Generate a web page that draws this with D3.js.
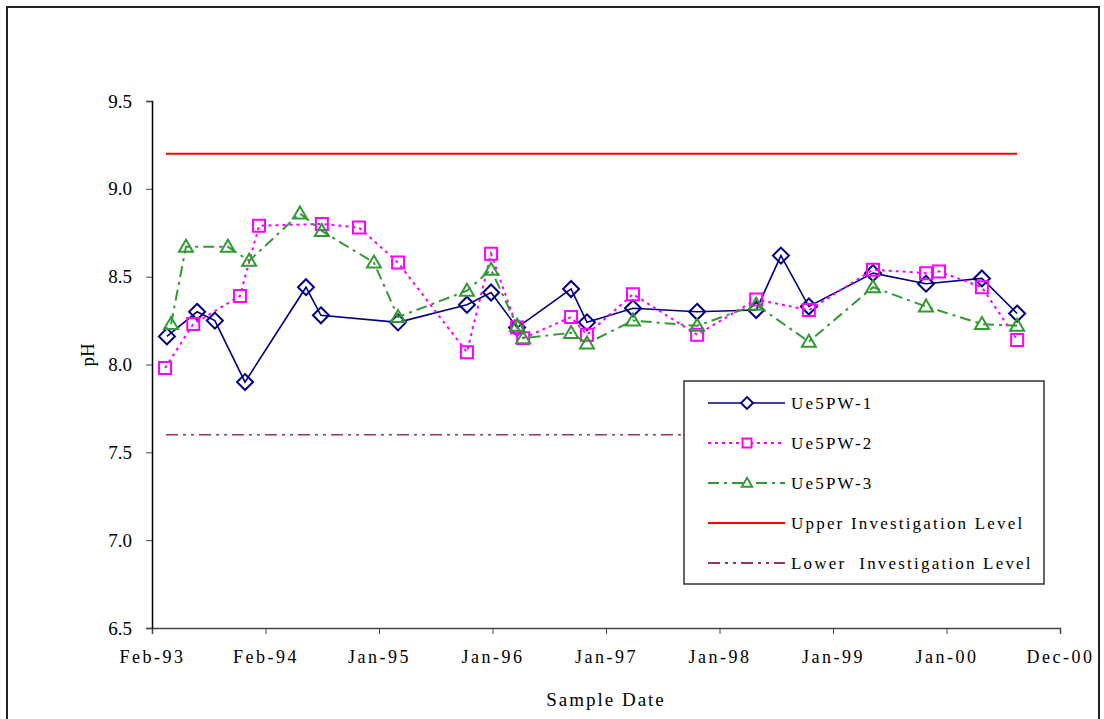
<!DOCTYPE html>
<html>
<head>
<meta charset="utf-8">
<script src="https://cdn.jsdelivr.net/npm/d3@7"></script>
<style>
  body { margin: 0; background: #fff; }
</style>
</head>
<body>
<div id="chart"><svg width="1104" height="719"></svg></div>
<script>
'use strict';

// sample dates and pH readings for each well
var dates1 = ['1993-04-08', '1993-07-12', '1993-09-06', '1993-12-10', '1994-06-20', '1994-08-06', '1995-04-06',
  '1995-11-09', '1996-01-24', '1996-04-15', '1996-10-02', '1996-11-21', '1997-04-15', '1997-11-03',
  '1998-05-08', '1998-07-25', '1998-10-21', '1999-05-11', '1999-10-25', '2000-04-18', '2000-08-07'];
var ph1 = [8.16, 8.30, 8.25, 7.90, 8.44, 8.28, 8.24, 8.34, 8.41, 8.21, 8.43, 8.24, 8.32, 8.30,
  8.31, 8.62, 8.33, 8.52, 8.46, 8.49, 8.29];

var dates2 = ['1993-04-02', '1993-06-30', '1993-11-24', '1994-01-23', '1994-08-09', '1994-12-04', '1995-04-06',
  '1995-11-09', '1996-01-24', '1996-04-15', '1996-05-04', '1996-10-02', '1996-11-21', '1997-04-15',
  '1997-11-03', '1998-05-08', '1998-10-21', '1999-05-11', '1999-10-25', '1999-12-05', '2000-04-18', '2000-08-07'];
var ph2 = [7.98, 8.23, 8.39, 8.79, 8.80, 8.78, 8.58, 8.07, 8.63, 8.21, 8.15, 8.27, 8.17, 8.40,
  8.17, 8.37, 8.31, 8.54, 8.52, 8.53, 8.44, 8.14];

var dates3 = ['1993-04-21', '1993-06-07', '1993-10-17', '1993-12-23', '1994-06-01', '1994-08-09', '1995-01-20',
  '1995-04-06', '1995-11-09', '1996-01-24', '1996-04-15', '1996-05-04', '1996-10-02', '1996-11-21',
  '1997-04-15', '1997-11-03', '1998-05-08', '1998-10-21', '1999-05-11', '1999-10-25', '2000-04-18', '2000-08-07'];
var ph3 = [8.23, 8.67, 8.67, 8.59, 8.86, 8.76, 8.58, 8.27, 8.42, 8.54, 8.22, 8.15, 8.18, 8.12,
  8.25, 8.22, 8.34, 8.13, 8.44, 8.33, 8.23, 8.22];

// investigation levels
var levelDates = ['1993-04-05', '2000-08-07'];
var upperLevel = 9.2;
var lowerLevel = 7.6;

// axes
var xDomain = ['1993-02-20', '2000-12-20'];
var xTickLabels = ['Feb-93', 'Feb-94', 'Jan-95', 'Jan-96', 'Jan-97', 'Jan-98', 'Jan-99', 'Jan-00', 'Dec-00'];
var yTicks = [6.5, 7.0, 7.5, 8.0, 8.5, 9.0, 9.5];

var FONT = '"Liberation Serif", "Times New Roman", "DejaVu Serif", serif';
var parse = d3.timeParse('%Y-%m-%d');

var margins = { top: 101, right: 44, bottom: 91, left: 152 };
var width = 1104, height = 719;

var svg = d3.select('#chart').select('svg');

// outer chart frame
svg.append('rect')
  .attr('x', 7).attr('y', 7).attr('width', 1092).attr('height', 720)
  .attr('fill', 'none').attr('stroke', '#222').attr('stroke-width', 2);

var x = d3.scaleTime()
  .domain(xDomain.map(parse))
  .range([margins.left, width - margins.right]);

var y = d3.scaleLinear()
  .domain([6.5, 9.5])
  .range([height - margins.bottom, margins.top]);

// evenly spaced tick positions across the date range
var t0 = x.domain()[0].getTime(), t1 = x.domain()[1].getTime();
var xTickDates = xTickLabels.map(function (d, i) {
  return new Date(t0 + i * (t1 - t0) / (xTickLabels.length - 1));
});

// x axis
var xAxis = svg.append('g')
  .attr('transform', 'translate(0,' + y(6.5) + ')')
  .call(d3.axisBottom(x).tickValues(xTickDates).tickSize(6).tickPadding(16)
    .tickFormat(function (d, i) { return xTickLabels[i]; }));
xAxis.attr('font-family', FONT);
xAxis.select('.domain').attr('stroke', '#444').attr('stroke-width', 1.5);
xAxis.selectAll('.tick line').attr('stroke', '#444');
xAxis.selectAll('.tick text')
  .style('font-family', FONT)
  .style('font-size', '18px').style('letter-spacing', '2.5px').attr('fill', '#000');

// y axis
var yAxis = svg.append('g')
  .attr('transform', 'translate(' + margins.left + ',0)')
  .call(d3.axisLeft(y).tickValues(yTicks).tickSize(6).tickPadding(14).tickFormat(d3.format('.1f')));
yAxis.attr('font-family', FONT);
yAxis.select('.domain').attr('stroke', '#000').attr('stroke-width', 1.5);
yAxis.selectAll('.tick line').attr('stroke', '#444');
yAxis.selectAll('.tick text').style('font-family', FONT).style('font-size', '19px').attr('fill', '#000');

// axis titles
svg.append('text')
  .attr('transform', 'translate(94,' + 355 + ') rotate(-90)')
  .attr('text-anchor', 'middle')
  .style('font-family', FONT).style('font-size', '19px')
  .text('pH');

svg.append('text')
  .attr('x', (margins.left + width - margins.right) / 2)
  .attr('y', 706)
  .attr('text-anchor', 'middle')
  .style('font-family', FONT).style('font-size', '19px').style('letter-spacing', '2px')
  .text('Sample Date');

// investigation level lines
var levels = [
  { value: upperLevel, color: '#ff0000', dash: null, width: 2 },
  { value: lowerLevel, color: '#993366', dash: '12,5,3,5,3,5', width: 1.5 }
];
levels.forEach(function (l) {
  svg.append('line')
    .attr('x1', x(parse(levelDates[0]))).attr('x2', x(parse(levelDates[1])))
    .attr('y1', y(l.value)).attr('y2', y(l.value))
    .attr('stroke', l.color).attr('stroke-width', l.width)
    .attr('stroke-dasharray', l.dash);
});

// series definitions
var series = [
  { name: 'Ue5PW-1', dates: dates1, values: ph1, color: '#000080', dash: null, width: 1.6, marker: 'diamond' },
  { name: 'Ue5PW-2', dates: dates2, values: ph2, color: '#ff00ff', dash: '3,4', width: 2, marker: 'square' },
  { name: 'Ue5PW-3', dates: dates3, values: ph3, color: '#339933', dash: '11,5,3,5', width: 2, marker: 'triangle' }
];

var markerPath = {
  diamond: 'M0,-8L8,0L0,8L-8,0Z',
  square: 'M-6,-6H6V6H-6Z',
  triangle: 'M0,-7L7,5H-7Z'
};

var line = d3.line()
  .x(function (d) { return x(d.date); })
  .y(function (d) { return y(d.value); });

series.forEach(function (s) {
  var pts = s.dates.map(function (d, i) { return { date: parse(d), value: s.values[i] }; });
  var g = svg.append('g').attr('class', 'series');

  g.append('path')
    .datum(pts)
    .attr('d', line)
    .attr('fill', 'none')
    .attr('stroke', s.color)
    .attr('stroke-width', s.width)
    .attr('stroke-dasharray', s.dash);

  g.selectAll('path.marker').data(pts).enter().append('path')
    .attr('class', 'marker')
    .attr('d', markerPath[s.marker])
    .attr('transform', function (d) { return 'translate(' + x(d.date) + ',' + y(d.value) + ')'; })
    .attr('fill', 'none')
    .attr('stroke', s.color)
    .attr('stroke-width', 2);
});

// legend
var legend = svg.append('g').attr('transform', 'translate(684,381)');
legend.append('rect')
  .attr('width', 360).attr('height', 203)
  .attr('fill', '#fff').attr('stroke', '#333').attr('stroke-width', 1.5);

var legendItems = series.map(function (s) {
  return { name: s.name, color: s.color, dash: s.dash, width: s.width, marker: s.marker };
}).concat([
  { name: 'Upper Investigation Level', color: levels[0].color, dash: null, width: 2, marker: null },
  { name: 'Lower  Investigation Level', color: levels[1].color, dash: levels[1].dash, width: 2, marker: null }
]);

var entry = legend.selectAll('g.entry').data(legendItems).enter().append('g')
  .attr('class', 'entry')
  .attr('transform', function (d, i) { return 'translate(0,' + (22 + i * 40) + ')'; });

entry.append('line')
  .attr('x1', 24).attr('x2', 101)
  .attr('stroke', function (d) { return d.color; })
  .attr('stroke-width', function (d) { return d.width; })
  .attr('stroke-dasharray', function (d) { return d.dash; });

entry.filter(function (d) { return d.marker; }).append('path')
  .attr('d', function (d) { return markerPath[d.marker]; })
  .attr('transform', 'translate(63,0) scale(0.75)')
  .attr('fill', '#fff')
  .attr('stroke', function (d) { return d.color; })
  .attr('stroke-width', 2.5);

entry.append('text')
  .attr('x', 107).attr('y', 6)
  .style('font-family', FONT)
  .style('font-size', '17px').style('letter-spacing', '2.2px')
  .style('white-space', 'pre')
  .text(function (d) { return d.name; });
</script>
</body>
</html>
